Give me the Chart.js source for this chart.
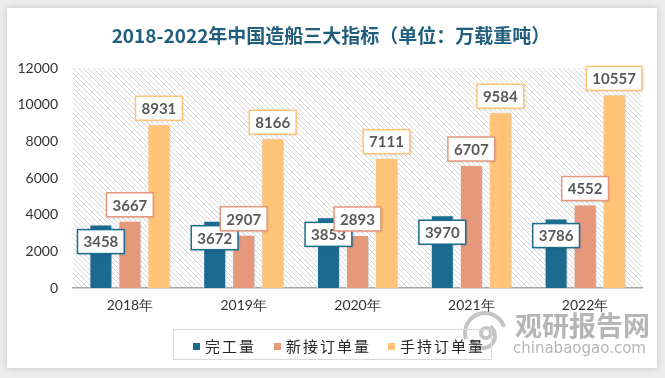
<!DOCTYPE html>
<html>
<head>
<meta charset="utf-8">
<script src="https://cdn.jsdelivr.net/npm/chart.js@4"></script>
<style>
  body { margin: 0; background: #ececec; }
  .card {
    position: absolute; left: 7px; top: 8px; width: 650px; height: 360px;
    background: #fff; box-shadow: 0 0 6px rgba(0,0,0,0.18);
  }
  .wrap { position: absolute; left: 0; top: 0; width: 665px; height: 378px; }
</style>
</head>
<body>
<div class="card"></div>
<div class="wrap"><canvas id="c" width="665" height="378"></canvas></div>
<script>
const years = ['2018年', '2019年', '2020年', '2021年', '2022年']
const completed = [3458, 3672, 3853, 3970, 3786]
const newOrders = [3667, 2907, 2893, 6707, 4552]
const holdOrders = [8931, 8166, 7111, 9584, 10557]
const seriesNames = ['完工量', '新接订单量', '手持订单量']
const seriesColors = ['#1b6b91', '#e5987a', '#ffc478']
const titleText = '2018-2022年中国造船三大指标（单位：万载重吨）'

// hatch pattern for the plot background
function makeHatch() {
    const p = document.createElement('canvas')
    p.width = 5; p.height = 5
    const g = p.getContext('2d')
    g.strokeStyle = '#d6d6d6'
    g.lineWidth = 1
    g.beginPath()
    g.moveTo(0, 0); g.lineTo(5, 5)
    g.moveTo(-1, 4); g.lineTo(1, 6)
    g.moveTo(4, -1); g.lineTo(6, 1)
    g.stroke()
    return p
}

const decor = {
    id: 'decor',
    beforeDraw(chart) {
        const ctx = chart.ctx
        const a = chart.chartArea
        ctx.save()
        ctx.fillStyle = ctx.createPattern(makeHatch(), 'repeat')
        ctx.fillRect(a.left, a.top, a.right - a.left, a.bottom - a.top)

        // title
        ctx.fillStyle = '#215e7e'
        ctx.font = 'bold 19px "Noto Sans CJK SC"'
        ctx.textAlign = 'center'
        ctx.textBaseline = 'middle'
        ctx.fillText(titleText, 331, 36)

        // watermark
        ctx.strokeStyle = '#c4c4c4'
        ctx.lineWidth = 4
        ctx.beginPath(); ctx.arc(485, 333, 20, Math.PI * 0.9, Math.PI * 1.9); ctx.stroke()
        ctx.beginPath(); ctx.arc(483, 336, 12, Math.PI * 1.7, Math.PI * 0.9); ctx.stroke()
        ctx.beginPath(); ctx.arc(486, 333, 5, 0, Math.PI * 2); ctx.stroke()
        ctx.fillStyle = '#b5b5b5'
        ctx.textAlign = 'left'
        ctx.font = 'bold 27px "Noto Sans CJK SC"'
        ctx.fillText('观研报告网', 515, 326)
        ctx.font = '15px "DejaVu Sans"'
        ctx.fillText('chinabaogao.com', 513, 349)

        // legend
        ctx.strokeStyle = '#d9d9d9'
        ctx.lineWidth = 1
        ctx.strokeRect(173.5, 329.5, 318, 30)
        ctx.font = '15px "Noto Sans CJK SC"'
        const xs = [193, 274, 388]
        chart.data.datasets.forEach((ds, i) => {
            ctx.fillStyle = ds.backgroundColor
            ctx.fillRect(xs[i], 343, 7, 7)
            ctx.fillStyle = '#262626'
            ctx.letterSpacing = '2px'
            ctx.fillText(ds.label, xs[i] + 12, 346)
        })
        ctx.restore()
    },
    beforeDatasetsDraw(chart) {
        chart.ctx.save()
        chart.ctx.shadowColor = 'rgba(0,0,0,0.25)'
        chart.ctx.shadowBlur = 3
        chart.ctx.shadowOffsetX = 1
        chart.ctx.shadowOffsetY = 1
    },
    afterDatasetsDraw(chart) {
        chart.ctx.restore()
        const ctx = chart.ctx
        ctx.save()
        ctx.font = 'bold 15px Lato'
        ctx.textAlign = 'center'
        ctx.textBaseline = 'middle'
        chart.data.datasets.forEach((ds, i) => {
            chart.getDatasetMeta(i).data.forEach((bar, j) => {
                const txt = String(ds.data[j])
                const w = ctx.measureText(txt).width + 12
                const h = 24
                const cy = i === 0 ? bar.y + 17 : bar.y - 4 - h / 2
                ctx.shadowColor = 'rgba(0,0,0,0.2)'
                ctx.shadowBlur = 3
                ctx.shadowOffsetX = 1
                ctx.shadowOffsetY = 1
                ctx.fillStyle = '#fff'
                ctx.fillRect(bar.x - w / 2, cy - h / 2, w, h)
                ctx.shadowColor = 'transparent'
                ctx.strokeStyle = ds.backgroundColor
                ctx.lineWidth = 1.5
                ctx.strokeRect(bar.x - w / 2, cy - h / 2, w, h)
                ctx.fillStyle = '#595959'
                ctx.fillText(txt, bar.x, cy + 1)
            })
        })
        ctx.restore()
    }
}

const ctx = document.getElementById('c').getContext('2d')
new Chart(ctx, {
    type: 'bar',
    data: {
        labels: years,
        datasets: [completed, newOrders, holdOrders].map((d, i) => ({
            label: seriesNames[i],
            data: d,
            backgroundColor: seriesColors[i],
            borderColor: 'rgba(255,255,255,0.85)',
            borderWidth: 1,
            barPercentage: 0.79,
            categoryPercentage: 0.765
        }))
    },
    options: {
        responsive: false,
        animation: false,
        layout: { padding: { top: 68, right: 23, bottom: 50, left: 0 } },
        scales: {
            x: {
                grid: { display: false, drawTicks: false },
                border: { display: true, color: '#a6a6a6', width: 1.5 },
                ticks: { color: '#333', font: { family: 'Lato', size: 14 }, padding: 9 },
                afterFit(s) { s.height = 40 }
            },
            y: {
                min: 0, max: 12000,
                grid: { display: false, drawTicks: false },
                border: { display: false },
                ticks: {
                    stepSize: 2000, color: '#333', font: { family: 'Lato', size: 14 }, padding: 15,
                    callback: v => String(v)
                },
                afterFit(s) { s.width = 73 }
            }
        },
        plugins: {
            legend: { display: false },
            title: { display: false },
            tooltip: { enabled: false }
        }
    },
    plugins: [decor]
})
</script>
</body>
</html>
